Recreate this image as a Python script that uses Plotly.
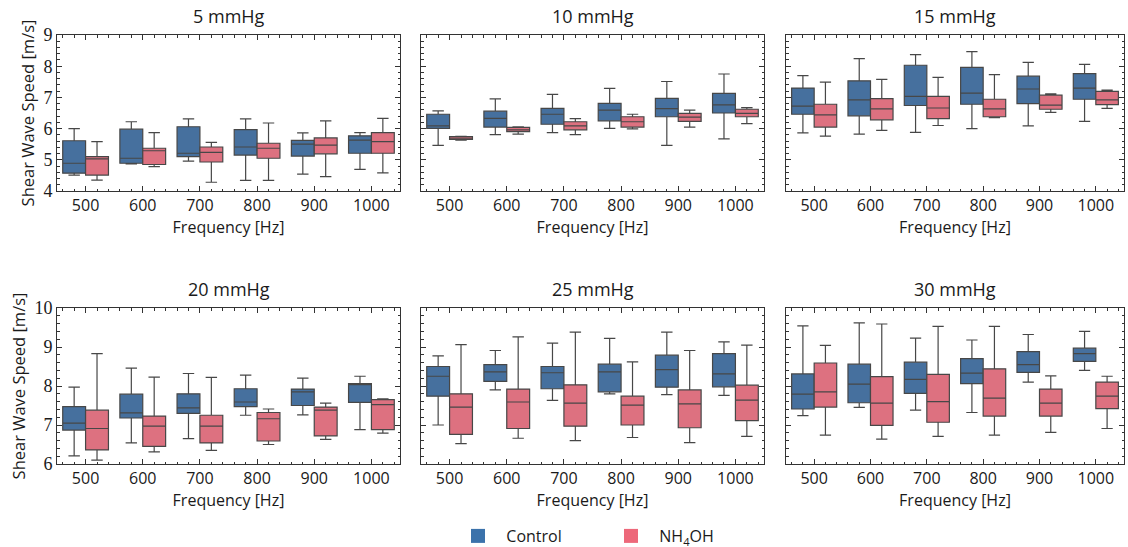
import plotly.graph_objects as go

# Frequencies (Hz) shown on every panel
FREQS = [500, 600, 700, 800, 900, 1000]
PRESSURES = ["5 mmHg", "10 mmHg", "15 mmHg", "20 mmHg", "25 mmHg", "30 mmHg"]

# Box statistics, one row per pressure, one value per frequency (m/s)
CTRL_LOW = [
    [4.51, 4.87, 4.96, 4.34, 4.54, 4.69],
    [5.46, 5.81, 5.87, 6.01, 5.46, 5.67],
    [5.86, 5.82, 5.88, 6.00, 6.09, 6.23],
    [6.21, 6.54, 6.65, 7.25, 7.26, 6.88],
    [7.00, 7.90, 7.63, 7.80, 7.78, 7.76],
    [7.24, 7.45, 7.38, 7.32, 8.10, 8.40],
]
CTRL_Q1 = [
    [4.57, 4.89, 5.10, 5.15, 5.12, 5.21],
    [6.01, 6.05, 6.14, 6.25, 6.38, 6.50],
    [6.46, 6.41, 6.74, 6.78, 6.80, 6.94],
    [6.87, 7.18, 7.30, 7.47, 7.50, 7.58],
    [7.74, 8.12, 7.93, 7.85, 7.97, 7.98],
    [7.41, 7.57, 7.81, 8.06, 8.35, 8.63],
]
CTRL_MED = [
    [4.89, 5.05, 5.21, 5.41, 5.50, 5.63],
    [6.09, 6.33, 6.46, 6.59, 6.64, 6.76],
    [6.72, 6.92, 7.03, 7.14, 7.27, 7.30],
    [7.05, 7.31, 7.44, 7.59, 7.85, 8.04],
    [8.25, 8.36, 8.34, 8.36, 8.42, 8.31],
    [7.79, 8.05, 8.17, 8.33, 8.55, 8.83],
]
CTRL_Q3 = [
    [5.61, 5.98, 6.06, 5.97, 5.62, 5.77],
    [6.46, 6.56, 6.65, 6.81, 6.97, 7.13],
    [7.30, 7.53, 8.03, 7.96, 7.68, 7.76],
    [7.47, 7.79, 7.80, 7.93, 7.92, 8.06],
    [8.50, 8.55, 8.50, 8.56, 8.79, 8.83],
    [8.31, 8.56, 8.61, 8.70, 8.88, 8.97],
]
CTRL_HIGH = [
    [6.00, 6.22, 6.31, 6.31, 5.86, 5.87],
    [6.57, 6.95, 7.10, 7.29, 7.51, 7.75],
    [7.70, 8.24, 8.37, 8.47, 8.12, 8.06],
    [7.97, 8.46, 8.32, 8.28, 8.20, 8.25],
    [8.77, 8.91, 9.10, 9.22, 9.38, 9.13],
    [9.54, 9.62, 9.23, 9.18, 9.32, 9.40],
]

NH4_LOW = [
    [4.35, 4.78, 4.28, 4.34, 4.46, 4.58],
    [5.63, 5.82, 5.81, 5.99, 6.05, 6.16],
    [5.76, 5.94, 6.10, 6.35, 6.52, 6.65],
    [6.10, 6.31, 6.35, 6.50, 6.63, 6.79],
    [6.52, 6.66, 6.60, 6.68, 6.55, 6.71],
    [6.74, 6.64, 6.71, 6.74, 6.81, 6.91],
]
NH4_Q1 = [
    [4.51, 4.85, 4.93, 5.05, 5.19, 5.21],
    [5.65, 5.90, 5.96, 6.05, 6.23, 6.38],
    [6.05, 6.28, 6.32, 6.38, 6.62, 6.77],
    [6.36, 6.45, 6.54, 6.59, 6.72, 6.88],
    [6.76, 6.91, 6.97, 7.00, 6.93, 7.11],
    [7.46, 6.99, 7.07, 7.23, 7.23, 7.42],
]
NH4_MED = [
    [5.03, 5.29, 5.24, 5.37, 5.47, 5.58],
    [5.69, 5.96, 6.09, 6.22, 6.37, 6.49],
    [6.44, 6.63, 6.66, 6.63, 6.75, 6.92],
    [6.91, 6.97, 6.97, 7.16, 7.38, 7.52],
    [7.46, 7.59, 7.56, 7.51, 7.54, 7.64],
    [7.85, 7.56, 7.60, 7.69, 7.56, 7.74],
]
NH4_Q3 = [
    [5.10, 5.37, 5.41, 5.53, 5.70, 5.87],
    [5.74, 6.04, 6.22, 6.38, 6.49, 6.62],
    [6.78, 6.96, 7.03, 6.94, 7.07, 7.19],
    [7.38, 7.23, 7.25, 7.32, 7.46, 7.65],
    [7.80, 7.92, 8.03, 7.74, 7.90, 8.02],
    [8.59, 8.24, 8.30, 8.44, 7.92, 8.10],
]
NH4_HIGH = [
    [5.58, 5.87, 5.56, 6.18, 6.25, 6.33],
    [5.75, 6.06, 6.32, 6.46, 6.59, 6.67],
    [7.49, 7.58, 7.64, 7.73, 7.11, 7.23],
    [8.83, 8.23, 8.22, 7.41, 7.56, 7.67],
    [9.06, 9.26, 9.38, 8.62, 8.91, 9.05],
    [9.04, 9.59, 9.53, 9.53, 8.26, 8.25],
]

Y_RANGES = [[4, 9], [6, 10]]

W, H = 1128, 547
SANS = "Open Sans"
SERIF = "Liberation Serif"
TEXT = "#1a1a1a"
BLUE_FILL = "rgb(70,112,158)"
PINK_FILL = "rgb(221,113,128)"
BLUE_KEY = "rgb(59,114,171)"
PINK_KEY = "rgb(237,104,122)"
EDGE = "#474747"
FRAME = "#333333"

# Panel placement in pixels: (left, right) per column, (top, bottom) per row
COLS_PX = [(57, 400), (421, 764), (786, 1124)]
ROWS_PX = [(35, 191), (308, 464)]


def xdom(c):
    l, r = COLS_PX[c]
    return [l / W, r / W]


def ydom(r):
    t, b = ROWS_PX[r]
    return [1 - b / H, 1 - t / H]


positions = list(range(len(FREQS)))
fig = go.Figure()
layout = {}
annotations = []

for i, title in enumerate(PRESSURES):
    row, col = divmod(i, 3)
    n = i + 1
    xa = "x" if n == 1 else f"x{n}"
    ya = "y" if n == 1 else f"y{n}"

    groups = [
        ("Control", CTRL_LOW, CTRL_Q1, CTRL_MED, CTRL_Q3, CTRL_HIGH, BLUE_FILL),
        ("NH4OH", NH4_LOW, NH4_Q1, NH4_MED, NH4_Q3, NH4_HIGH, PINK_FILL),
    ]
    for name, lo, q1, med, q3, hi, fill in groups:
        fig.add_trace(go.Box(
            x=positions,
            lowerfence=lo[i], q1=q1[i], median=med[i], q3=q3[i], upperfence=hi[i],
            name=name, offsetgroup=name, fillcolor=fill,
            line=dict(color=EDGE, width=1.2), whiskerwidth=0.5,
            boxpoints=False, showlegend=False, hoverinfo="skip",
            xaxis=xa, yaxis=ya,
        ))

    xkey = "xaxis" if n == 1 else f"xaxis{n}"
    ykey = "yaxis" if n == 1 else f"yaxis{n}"
    layout[xkey] = dict(
        domain=xdom(col), anchor=ya, range=[-0.5, 5.5],
        tickmode="array", tickvals=positions, ticktext=[str(f) for f in FREQS],
        ticks="inside", ticklen=5, tickwidth=1, tickcolor=FRAME,
        minor=dict(dtick=0.2, tick0=0, ticks="inside", ticklen=2.5, tickcolor=FRAME),
        showline=True, linecolor=FRAME, linewidth=1, mirror="allticks",
        showgrid=False, zeroline=False, automargin=False,
        tickfont=dict(family=SANS, size=16, color=TEXT),
        title=dict(text="Frequency [Hz]", font=dict(family=SANS, size=16, color=TEXT),
                   standoff=0),
    )
    yr = Y_RANGES[row]
    layout[ykey] = dict(
        domain=ydom(row), anchor=xa, range=yr,
        tickmode="linear", tick0=yr[0], dtick=1,
        ticks="inside", ticklen=5, tickwidth=1, tickcolor=FRAME,
        minor=dict(dtick=0.2, tick0=0, ticks="inside", ticklen=2.5, tickcolor=FRAME),
        showline=True, linecolor=FRAME, linewidth=1, mirror="allticks",
        showgrid=False, zeroline=False, automargin=False,
        showticklabels=(col == 0),
        tickfont=dict(family=SERIF, size=18, color=TEXT),
    )
    if col == 0:
        layout[ykey]["title"] = dict(text="Shear Wave Speed [m/s]",
                                     font=dict(family=SANS, size=16.5, color=TEXT),
                                     standoff=4)

    cl, cr = COLS_PX[col]
    top = ROWS_PX[row][0]
    annotations.append(dict(
        text=title, x=(cl + cr) / 2 / W, y=1 - (top - 5) / H,
        xref="paper", yref="paper", xanchor="center", yanchor="bottom",
        showarrow=False, font=dict(family=SANS, size=18, color=TEXT),
    ))

# Legend keys drawn as square markers
PAD = "\u00a0\u00a0"
for name, color in [(PAD + "Control", BLUE_KEY), (PAD + "NH<sub>4</sub>OH", PINK_KEY)]:
    fig.add_trace(go.Scatter(
        x=[None], y=[None], mode="markers", name=name,
        marker=dict(symbol="square", size=14, color=color),
        showlegend=True, xaxis="x5", yaxis="y5",
    ))

fig.update_layout(
    width=W, height=H,
    margin=dict(l=0, r=0, t=0, b=0, autoexpand=False),
    paper_bgcolor="white", plot_bgcolor="white",
    boxmode="group", boxgap=0.2, boxgroupgap=0,
    annotations=annotations,
    legend=dict(
        orientation="h", x=458 / W, xanchor="left", y=1 - 536 / H, yanchor="middle",
        font=dict(family=SANS, size=16, color=TEXT),
        entrywidth=108, entrywidthmode="pixels", itemsizing="trace",
        bgcolor="rgba(0,0,0,0)",
    ),
    **layout,
)

fig.write_html("out.html")
